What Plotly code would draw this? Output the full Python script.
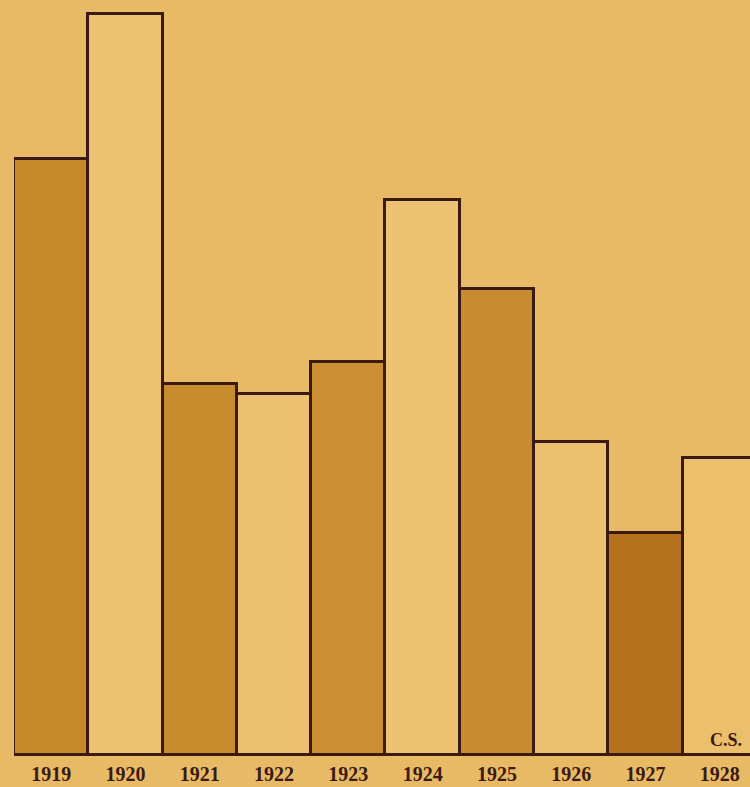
import plotly.graph_objects as go

years = ["1919", "1920", "1921", "1922", "1923", "1924", "1925", "1926", "1927", "1928"]
values = [596, 741, 371, 361, 393, 555, 466, 313, 222, 297]
bar_colors = ["#C68A2C", "#EDC272", "#C68C2E", "#EBC070", "#C98F32", "#EDC273",
              "#C88C30", "#EBC06F", "#B5731F", "#EBBF6C"]

x = list(range(len(years)))

fig = go.Figure()
fig.add_trace(go.Bar(
    x=x, y=values, width=1,
    marker=dict(color=bar_colors, line=dict(color="#3A1A12", width=3)),
    hoverinfo="skip",
))

fig.add_annotation(x=9, y=0, xref="x", yref="y", text="C.S.", showarrow=False,
                   xanchor="left", yanchor="bottom", xshift=-12, yshift=3,
                   font=dict(family="Liberation Serif", size=18, color="#3A1A12", weight="bold"))

fig.update_layout(
    width=750, height=787,
    margin=dict(l=14, r=0, t=0, b=30),
    paper_bgcolor="#E9BA66",
    plot_bgcolor="#E9BA66",
    bargap=0,
    showlegend=False,
    xaxis=dict(range=[-0.5, 9.406], tickvals=x, ticktext=years, showgrid=False,
               zeroline=False, showline=False, ticks="", ticklabelstandoff=3,
               tickfont=dict(family="Liberation Serif", size=20, color="#3A1A12", weight="bold")),
    yaxis=dict(range=[-2, 755], visible=False, showgrid=False, zeroline=False),
)

fig.write_html("out.html", config={"displayModeBar": False},
               post_script="document.body.style.margin='0';")
